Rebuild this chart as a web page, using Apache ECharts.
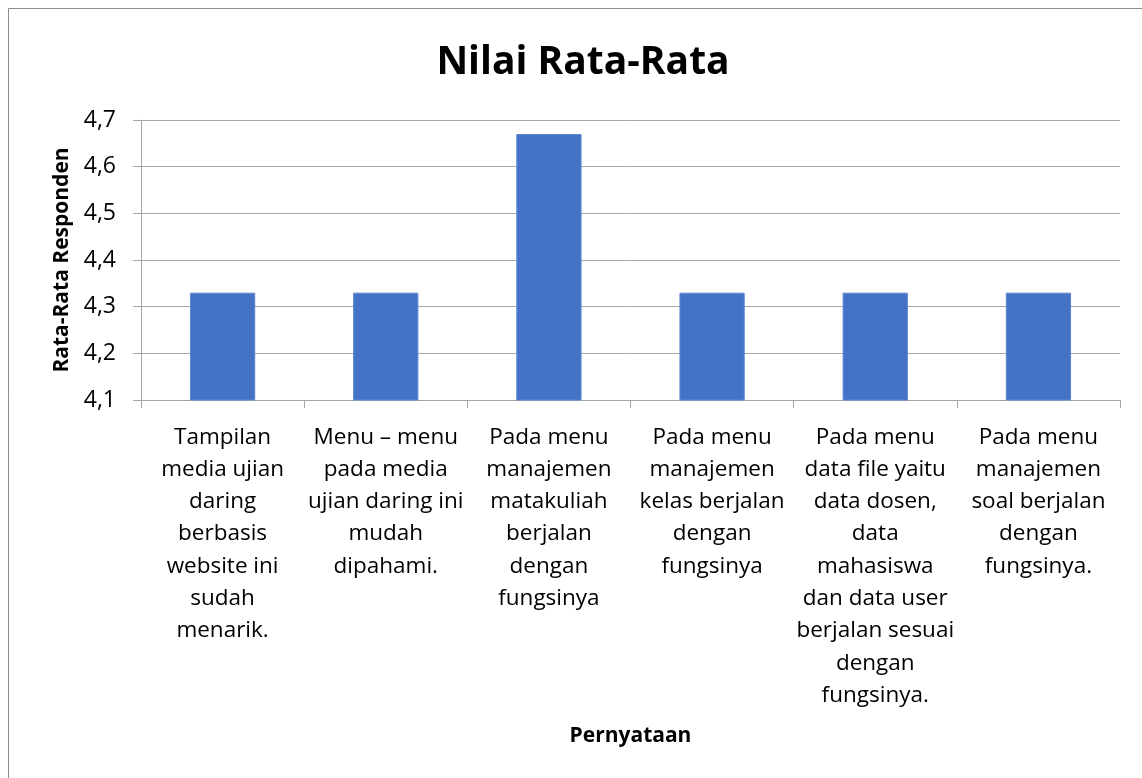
<!DOCTYPE html>
<html>
<head>
<meta charset="utf-8">
<script src="https://cdn.jsdelivr.net/npm/echarts@6/dist/echarts.min.js"></script>
<style>
html,body{margin:0;padding:0;background:#fff;}
#chart{width:1142px;height:778px;}
</style>
</head>
<body>
<div id="chart"></div>
<script>
const titleText = 'Nilai Rata-Rata';
const yAxisName = 'Rata-Rata Responden';
const xAxisName = 'Pernyataan';
const categories = [
  'Tampilan\nmedia ujian\ndaring\nberbasis\nwebsite ini\nsudah\nmenarik.',
  'Menu \u2013 menu\npada media\nujian daring ini\nmudah\ndipahami.',
  'Pada menu\nmanajemen\nmatakuliah\nberjalan\ndengan\nfungsinya',
  'Pada menu\nmanajemen\nkelas berjalan\ndengan\nfungsinya',
  'Pada menu\ndata file yaitu\ndata dosen,\ndata\nmahasiswa\ndan data user\nberjalan sesuai\ndengan\nfungsinya.',
  'Pada menu\nmanajemen\nsoal berjalan\ndengan\nfungsinya.'
];
const values = [4.33, 4.33, 4.67, 4.33, 4.33, 4.33];
const yTicks = [4.1, 4.2, 4.3, 4.4, 4.5, 4.6, 4.7];

const FONT = 'Open Sans';
const chart = echarts.init(document.getElementById('chart'), null, {renderer: 'canvas'});
chart.setOption({
  backgroundColor: '#fff',
  animation: false,
  graphic: [{
    type: 'rect', silent: true,
    shape: {x: 8.5, y: 8.5, width: 1140, height: 790},
    style: {fill: 'none', stroke: '#8c8c8c', lineWidth: 1}
  }],
  title: {
    text: titleText, left: 578, textAlign: 'center', top: 38,
    textStyle: {fontFamily: FONT, fontWeight: 'bold', fontSize: 39, color: '#000'}
  },
  grid: {left: 141, right: 22, top: 120, bottom: 378, containLabel: false},
  xAxis: {
    type: 'category', data: categories,
    name: xAxisName, nameLocation: 'middle', nameGap: 326,
    nameTextStyle: {fontFamily: FONT, fontWeight: 'bold', fontSize: 21, color: '#000'},
    axisLine: {lineStyle: {color: '#a6a6a6', width: 1}},
    axisTick: {show: true, length: 8, alignWithLabel: false, lineStyle: {color: '#a6a6a6'}},
    axisLabel: {interval: 0, margin: 21, lineHeight: 32.3, fontFamily: FONT, fontSize: 22.5, color: '#000', align: 'center'}
  },
  yAxis: {
    type: 'value', min: yTicks[0], max: yTicks[yTicks.length - 1], interval: 0.1,
    name: yAxisName, nameLocation: 'middle', nameGap: 66, nameRotate: 90,
    nameTextStyle: {fontFamily: FONT, fontWeight: 'bold', fontSize: 21, color: '#000'},
    axisLine: {show: true, lineStyle: {color: '#a6a6a6', width: 1}},
    axisTick: {show: true, length: 8, lineStyle: {color: '#a6a6a6'}},
    splitLine: {show: true, lineStyle: {color: '#a6a6a6', width: 1}},
    axisLabel: {margin: 25, fontFamily: FONT, fontSize: 23, color: '#000',
      formatter: v => v.toFixed(1).replace('.', ',')}
  },
  series: [{
    type: 'bar', data: values, barWidth: '40%',
    itemStyle: {color: '#4472c4', borderColor: '#5b87d6', borderWidth: 1}
  }]
});
</script>
</body>
</html>
